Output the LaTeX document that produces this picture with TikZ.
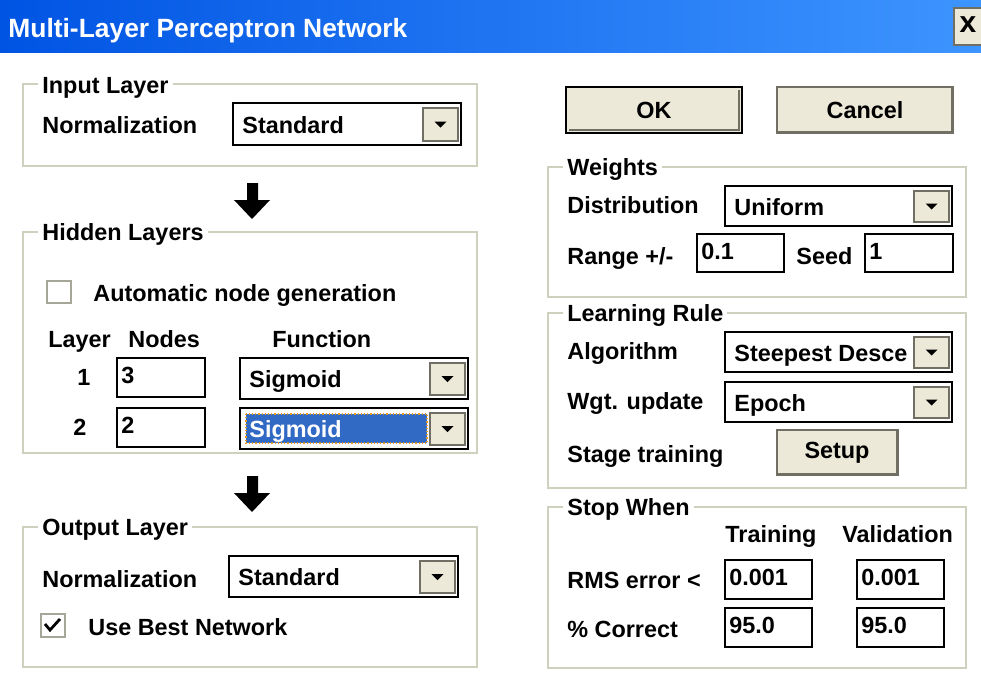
\documentclass[tikz,border=0pt]{standalone}
\usepackage{fontspec}
\setmainfont{Liberation Sans}
\usetikzlibrary{positioning}

\definecolor{titleL}{RGB}{0,84,227}
\definecolor{titleR}{RGB}{61,149,255}
\definecolor{grpline}{RGB}{208,208,191}
\definecolor{face}{RGB}{236,233,216}
\definecolor{shadow}{RGB}{113,111,100}
\definecolor{selblue}{RGB}{49,106,197}
\definecolor{focus}{RGB}{230,150,30}

\tikzset{
  grp/.style={draw=grpline, line width=1pt},
  grptitle/.style={fill=white, inner xsep=2pt, inner ysep=1pt, anchor=base west, font=\uifont},
  lbl/.style={inner sep=0pt, anchor=base west, font=\uifont},
  ctrl/.style={draw=black, line width=0.9pt, fill=white},
  btnface/.style={fill=face, draw=shadow, line width=0.6pt},
  bigarrow/.style={fill=black},
}
\newcommand{\uifont}{\fontsize{11.7}{14}\selectfont\bfseries}

% drop-down list: name, x1, y1, x2, y2, text
\newcommand{\dropdown}[6]{%
  \draw[ctrl] (#2,#3) rectangle (#4,#5);
  \draw[btnface] (#4-38,#3+5) rectangle (#4-3,#5-4);
  \fill ({#4-26.5},{(#3+#5)/2-2.5}) -- ++(12,0) -- ++(-6,6) -- cycle;
  \node[lbl] (#1) at (#2+9,{(#3+#5)/2+9}) {#6};
}
% edit field: name, x1, y1, x2, y2, text
\newcommand{\editfield}[6]{%
  \draw[ctrl] (#2,#3) rectangle (#4,#5);
  \node[lbl] (#1) at (#2+4,{(#3+#5)/2+6}) {#6};
}

\begin{document}
\begin{tikzpicture}[x=0.5pt,y=-0.5pt]

        \useasboundingbox[fill=white] (0,0) rectangle (981,697);

        % title bar
        \shade[left color=titleL, right color=titleR] (0,0) rectangle (981,52);
        \node(title)[lbl, text=white, font=\fontsize{13.2}{15}\selectfont\bfseries] at (8,37) {Multi-Layer Perceptron Network};
        \draw[btnface] (954,8) rectangle (984,45);
        \node(closex)[inner sep=0pt, font=\fontsize{15}{15}\selectfont\bfseries] at (968,25) {x};

        % Input Layer:
        \draw[grp] (23,84) rectangle (477,166);
        \node(inp)[grptitle] at (38,93) {Input Layer};
        \node(inpnorm)[lbl] at (42,133) {Normalization};
        \dropdown{inpstd}{233}{103}{461}{145}{Standard}

        \fill[bigarrow] (247,183) -- (258,183) -- (258,200) -- (270,200) -- (252,219) -- (234,200) -- (247,200) -- cycle;

        % Hidden Layers:
        \draw[grp] (23,232) rectangle (477,453);
        \node(hid)[grptitle] at (38,240) {Hidden Layers};
        \draw[draw=grpline!80!black, line width=1pt, fill=white] (47,281) rectangle (71,303);
        \node(auto)[lbl] at (93,301) {Automatic node generation};
        \node(hlayer)[lbl] at (48,347) {Layer};
        \node(hnodes)[lbl] at (128,347) {Nodes};
        \node(hfunc)[lbl] at (272,347) {Function};
        \node(l1)[lbl] at (77,385) {1};
        \editfield{n1}{117}{358}{205}{397}{3}
        \dropdown{f1}{240}{358}{468}{399}{Sigmoid}
        \node(l2)[lbl] at (73,435) {2};
        \editfield{n2}{117}{408}{205}{447}{2}
        \draw[ctrl] (240,408) rectangle (468,449);
        \fill[selblue] (246,414) rectangle (427,443);
        \draw[focus, densely dotted, line width=0.6pt] (246,414) rectangle (427,443);
        \draw[btnface] (430,413) rectangle (465,445);
        \fill (441.5,426) -- ++(12,0) -- ++(-6,6) -- cycle;
        \node(f2)[lbl, text=white] at (249,437) {Sigmoid};

        \fill[bigarrow] (247,476) -- (258,476) -- (258,493) -- (270,493) -- (252,512) -- (234,493) -- (247,493) -- cycle;

        % Output Layer:
        \draw[grp] (23,527) rectangle (477,667);
        \node(outp)[grptitle] at (38,535) {Output Layer};
        \node(outnorm)[lbl] at (42,587) {Normalization};
        \dropdown{outstd}{229}{556}{458}{597}{Standard}
        \draw[draw=grpline!80!black, line width=1pt, fill=white] (41,614) rectangle (65,637);
        \draw[line width=1.4pt] (45,624) -- (50,630) -- (60,619);
        \node(best)[lbl] at (88,635) {Use Best Network};

        % buttons
        \draw[black, line width=1pt, fill=face] (566,87) rectangle (742,133);
        \draw[shadow, line width=1pt] (569,130) -- (739,130) -- (739,90);
        \node(ok)[lbl, anchor=base] at (654,118) {OK};
        \draw[btnface] (777,87) rectangle (953,133);
        \draw[shadow, line width=1pt] (778,132) -- (952,132) -- (952,88);
        \node(cancel)[lbl, anchor=base] at (865,118) {Cancel};

        % Weights:
        \draw[grp] (548,167) rectangle (966,297);
        \node(wts)[grptitle] at (563,175) {Weights};
        \node(dist)[lbl] at (567,213) {Distribution};
        \dropdown{unif}{725}{186}{952}{226}{Uniform}
        \node(range)[lbl] at (567,264) {Range +/-};
        \editfield{rangev}{697}{234}{784}{272}{0.1}
        \node(seed)[lbl] at (796,264) {Seed};
        \editfield{seedv}{865}{234}{953}{272}{1}

        % Learning Rule:
        \draw[grp] (548,313) rectangle (966,488);
        \node(lrule)[grptitle] at (563,321) {Learning Rule};
        \node(algo)[lbl] at (567,359) {Algorithm};
        \dropdown{steep}{725}{332}{952}{372}{Steepest Desce}
        \node(wgt)[lbl] at (567,409) {Wgt. update};
        \dropdown{epoch}{725}{382}{952}{422}{Epoch}
        \node(stage)[lbl] at (567,462) {Stage training};
        \draw[btnface] (777,430) rectangle (898,475);
        \draw[shadow, line width=1pt] (778,474) -- (897,474) -- (897,431);
        \node(setup)[lbl, anchor=base] at (837,458) {Setup};

        % Stop When:
        \draw[grp] (548,507) rectangle (966,668);
        \node(stop)[grptitle] at (563,515) {Stop When};
        \node(train)[lbl] at (725,542) {Training};
        \node(valid)[lbl] at (842,542) {Validation};
        \node(rms)[lbl] at (567,588) {RMS error <};
        \editfield{rmst}{725}{560}{812}{599}{0.001}
        \editfield{rmsv}{857}{560}{944}{599}{0.001}
        \node(pct)[lbl] at (567,637) {\% Correct};
        \editfield{pctt}{725}{608}{812}{647}{95.0}
        \editfield{pctv}{857}{608}{944}{647}{95.0}

    \end{tikzpicture}
\end{document}
